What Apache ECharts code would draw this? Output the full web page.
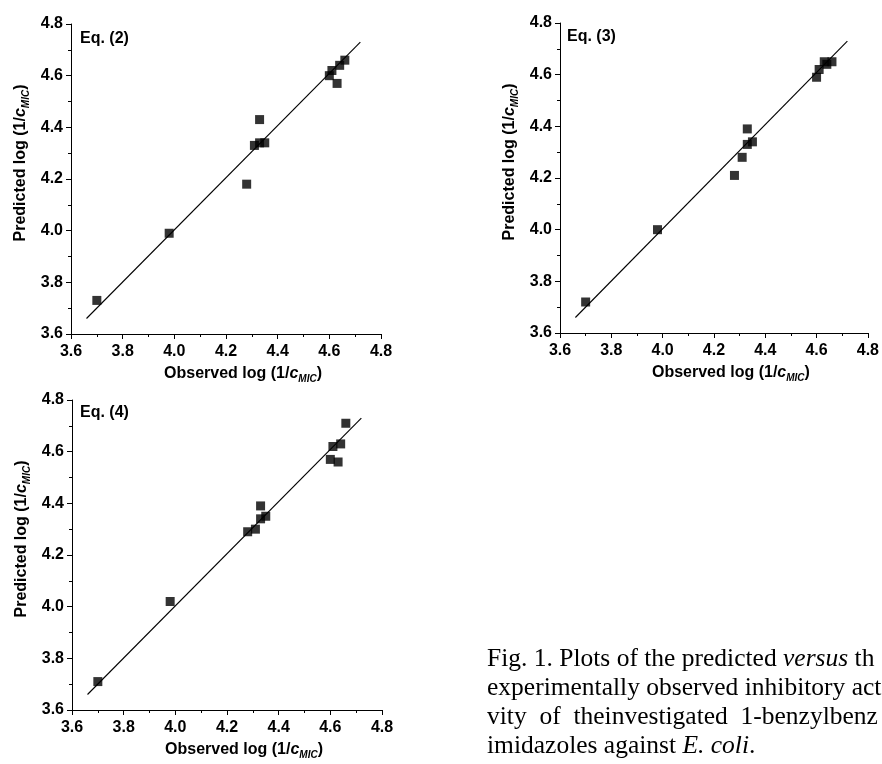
<!DOCTYPE html>
<html>
<head>
<meta charset="utf-8">
<script src="https://cdn.jsdelivr.net/npm/echarts@6/dist/echarts.min.js"></script>
<style>
  html, body { margin: 0; padding: 0; background: #fff; }
  #chart { width: 882px; height: 764px; }
</style>
</head>
<body>
<div id="chart"></div>
<script>
// observed activity, same compounds in every panel
const observed = [3.70, 3.98, 4.28, 4.31, 4.33, 4.33, 4.35, 4.60, 4.61, 4.63, 4.64, 4.66];
// predicted by each equation
const predEq2 = [3.73, 3.99, 4.18, 4.33, 4.43, 4.34, 4.34, 4.60, 4.62, 4.57, 4.64, 4.66];
const predEq3 = [3.72, 4.00, 4.21, 4.28, 4.39, 4.33, 4.34, 4.59, 4.62, 4.65, 4.64, 4.65];
const predEq4 = [3.71, 4.02, 4.29, 4.30, 4.39, 4.34, 4.35, 4.57, 4.62, 4.56, 4.63, 4.71];
// fitted lines (end points)
const fitX = [3.66, 4.72];
const fitEq2 = [3.66, 4.73];
const fitEq3 = [3.66, 4.73];
const fitEq4 = [3.66, 4.73];
// panel labels
const panelNames = ['Eq. (2)', 'Eq. (3)', 'Eq. (4)'];
const ticks = [3.6, 3.8, 4.0, 4.2, 4.4, 4.6, 4.8];

const sans = 'Liberation Sans, Arial, sans-serif';
const serif = 'Liberation Serif, Times New Roman, serif';

//布局
const grids = [
  { left: 71, top: 24, width: 310, height: 310 },
  { left: 560, top: 23, width: 309, height: 310 },
  { left: 72, top: 400, width: 310, height: 310 }
];

const nameRich = {
  b: { fontFamily: sans, fontWeight: 'bold', fontSize: 16, lineHeight: 20, color: '#000' },
  i: { fontFamily: sans, fontWeight: 'bold', fontStyle: 'italic', fontSize: 16, lineHeight: 20, color: '#000' },
  s: { fontFamily: sans, fontWeight: 'bold', fontStyle: 'italic', fontSize: 10, lineHeight: 8, verticalAlign: 'bottom', color: '#000' }
};

function axis(gridIndex, title, gap, pad, margin) {
  return {
    gridIndex,
    type: 'value',
    min: ticks[0],
    max: ticks[ticks.length - 1],
    interval: 0.2,
    name: title,
    nameLocation: 'middle',
    nameGap: gap,
    nameTextStyle: { rich: nameRich, padding: pad },
    axisLine: { show: true, onZero: false, lineStyle: { color: '#000', width: 1 } },
    axisTick: { show: true, inside: false, length: 5, lineStyle: { color: '#000' } },
    minorTick: { show: true, splitNumber: 2, length: 3, lineStyle: { color: '#000' } },
    splitLine: { show: false },
    axisLabel: {
      margin,
      fontFamily: sans, fontWeight: 'bold', fontSize: 16, color: '#000',
      formatter: v => v.toFixed(1)
    }
  };
}

const xName = '{b|Observed log (1/}{i|c}{s|MIC}{b|)}';
const yName = '{b|Predicted log (1/}{i|c}{s|MIC}{b|)}';

const xAxis = grids.map((g, k) => axis(k, xName, 30, [0, 0, 0, 34], 10));
const yAxis = grids.map((g, k) => axis(k, yName, 40, [0, 0, 0, 32], 8));

const preds = [predEq2, predEq3, predEq4];
const fits = [fitEq2, fitEq3, fitEq4];

const series = [];
preds.forEach((p, k) => {
  series.push({
    type: 'line',
    xAxisIndex: k, yAxisIndex: k,
    data: fitX.map((x, j) => [x, fits[k][j]]),
    symbol: 'none',
    lineStyle: { color: '#000', width: 1.1 },
    silent: true
  });
  series.push({
    type: 'scatter',
    xAxisIndex: k, yAxisIndex: k,
    data: observed.map((x, j) => [x, p[j]]),
    symbol: 'rect',
    symbolSize: 9,
    itemStyle: { color: '#000' }
  });
});

const eqPos = [[80, 31], [567, 29], [80, 405]];
const title = panelNames.map((t, k) => ({
  text: t, left: eqPos[k][0], top: eqPos[k][1], padding: 0,
  textStyle: { fontFamily: sans, fontWeight: 'bold', fontSize: 16, color: '#000' }
}));

// caption (cut at the right edge, as in the source)
const capRich = {
  r: { fontFamily: serif, fontSize: 25.5, color: '#000' },
  it: { fontFamily: serif, fontSize: 25.5, fontStyle: 'italic', color: '#000' }
};
const captionLines = [
  '{r|Fig. 1. Plots of the predicted }{it|versus}{r| th}',
  '{r|experimentally observed inhibitory acti}',
  '{r|vity  of  theinvestigated  1-benzylbenz}',
  '{r|imidazoles against }{it|E. coli}{r|.}'
];
const graphic = captionLines.map((line, k) => ({
  type: 'text',
  left: 487,
  top: 646 + k * 29,
  style: { text: line, rich: capRich }
}));

const myChart = echarts.init(document.getElementById('chart'), null, { renderer: 'canvas' });
myChart.setOption({
  animation: false,
  backgroundColor: '#fff',
  title,
  grid: grids,
  xAxis,
  yAxis,
  series,
  graphic
});
</script>
</body>
</html>
